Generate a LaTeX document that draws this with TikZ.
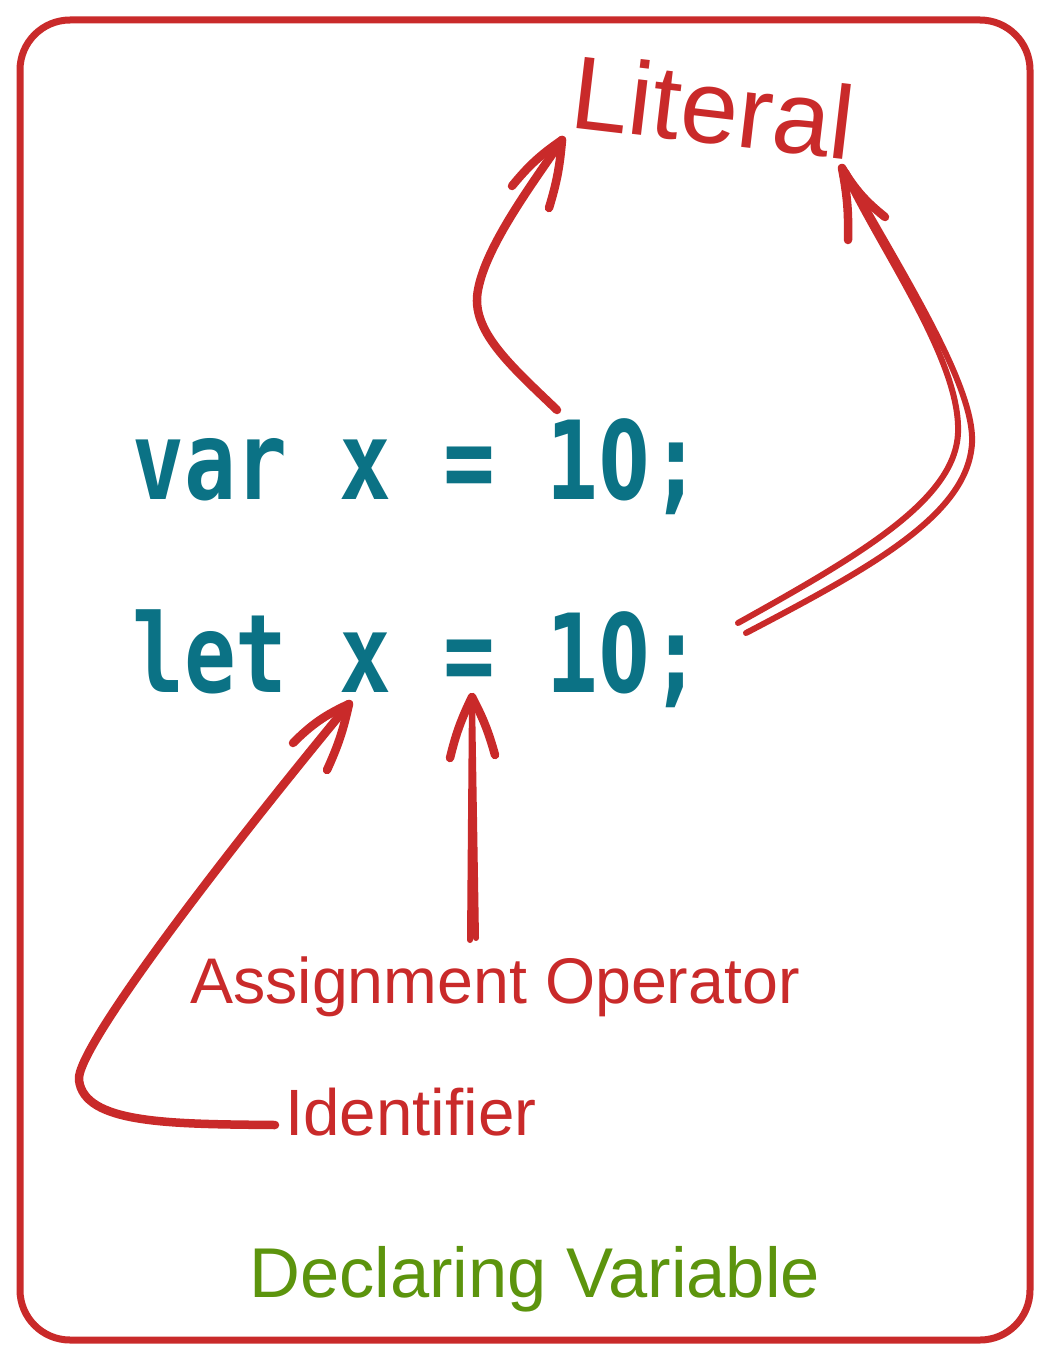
\documentclass[tikz,border=0pt]{standalone}
\usepackage{fontspec}
\setmainfont{Liberation Sans}
\newfontfamily\codefont[FakeStretch=0.79]{DejaVu Sans Mono}
\newfontfamily\zerofont[FakeStretch=0.66]{DejaVu Sans}
\newcommand{\zro}{\makebox[0.476em][c]{\zerofont\bfseries 0}}
\definecolor{redn}{HTML}{C92A2A}
\definecolor{tealn}{HTML}{0B7285}
\definecolor{limen}{HTML}{5C940D}
\begin{document}
\begin{tikzpicture}[x=1pt,y=-1pt,
  sketch/.style={draw=redn, line width=8.5pt, line cap=round, line join=round},
  thin sketch/.style={draw=redn, line width=6pt, line cap=round, line join=round},
  codetext/.style={inner sep=0pt, anchor=base west, text=tealn, font=\codefont\bfseries\fontsize{109}{120}\selectfont},
  label/.style={inner sep=0pt, anchor=base west, text=redn},
  frame/.style={draw=redn, line width=7pt, rounded corners=50pt}]
\useasboundingbox (0,0) rectangle (1051,1362);
\draw[frame] (20,20) rectangle (1030,1340);

% code lines
\node[codetext] (varline) at (132,499) {var x = 1\zro;};
\node[codetext] (letline) at (132,692) {let x = 1\zro;};

% labels
\node[label, rotate=-6.7, font=\fontsize{104}{112}\selectfont] (literal) at (568,127) {Literal};
\node[label, font=\fontsize{64.5}{70}\selectfont] (assign) at (190,1003) {Assignment Operator};
\node[label, font=\fontsize{65.5}{72}\selectfont] (ident) at (285,1135) {Identifier};
\node[inner sep=0pt, anchor=base west, text=limen, font=\fontsize{70.5}{78}\selectfont] (title) at (249,1297) {Declaring Variable};

% named points
\coordinate (v10) at (557,410);
\coordinate (litL) at (562,140);
\coordinate (l10a) at (738,623);
\coordinate (l10b) at (746,633);
\coordinate (litR) at (842,168);
\coordinate (litR2) at (846,172);
\coordinate (identS) at (275,1125);
\coordinate (xtip) at (349,704);
\coordinate (assignS) at (470,940);
\coordinate (assignS2) at (476,938);
\coordinate (eqtip) at (472,697);

% arrow: var 10 -> Literal
\draw[sketch] (v10) .. controls (510,365) and (470,330) .. (478,290)
                    .. controls (486,245) and (535,180) .. (litL);
\draw[sketch] (litL) to[bend right=8] (512,186);
\draw[sketch] (litL) to[bend left=6] (549,208);

% arrow: let 10 -> Literal (double stroke)
\draw[thin sketch] (l10a) .. controls (860,555) and (955,500) .. (958,433)
                         .. controls (961,360) and (880,250) .. (litR);
\draw[thin sketch] (l10b) .. controls (870,568) and (968,515) .. (972,443)
                         .. controls (975,385) and (900,270) .. (litR2);
\draw[sketch] (litR) to[bend left=6] (848,240);
\draw[sketch] (litR) to[bend right=10] (885,217);

% arrow: Identifier -> x
\draw[sketch] (identS) .. controls (170,1124) and (84,1124) .. (79,1080)
                       .. controls (75,1050) and (220,860) .. (xtip);
\draw[sketch] (xtip) to[bend right=10] (293,743);
\draw[sketch] (xtip) to[bend left=6] (327,770);

% arrow: Assignment Operator -> =
\draw[thin sketch] (assignS) -- (eqtip);
\draw[thin sketch] (assignS2) -- (eqtip);
\draw[sketch] (eqtip) to[bend left=-6] (450,758);
\draw[sketch] (eqtip) to[bend left=6] (495,755);
\end{tikzpicture}
\end{document}
